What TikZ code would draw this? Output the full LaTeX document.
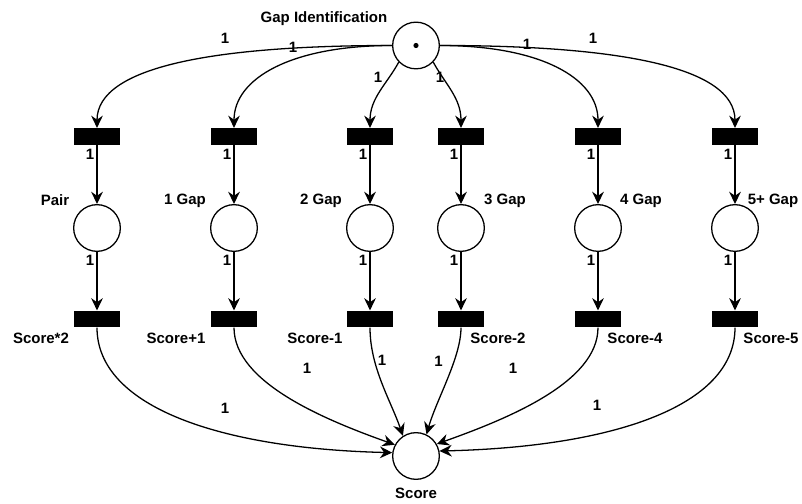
\documentclass[tikz,border=0pt]{standalone}
\usepackage{fontspec}
\setmainfont{Liberation Sans}
\usetikzlibrary{arrows.meta}

\begin{document}
\begin{tikzpicture}[x=0.03cm,y=0.03cm,
    place/.style={circle,draw,line width=1.1pt,minimum size=1.4cm,inner sep=0pt},
    trans/.style={rectangle,fill=black,minimum width=1.4cm,minimum height=0.5cm,inner sep=0pt},
    lbl/.style={font=\fontsize{12.8}{14}\selectfont\bfseries,inner sep=0pt},
    arc/.style={line width=1.1pt,-{Stealth[length=10.5pt,width=10pt,inset=3.5pt]}}]

    \useasboundingbox (0,0) rectangle (802,504);

    % places
    \node[place] (gi) at (416,458.5) {};
    \node[place] (p1) at (97,276) {};
    \node[place] (p2) at (234,276) {};
    \node[place] (p3) at (370,276) {};
    \node[place] (p4) at (461,276) {};
    \node[place] (p5) at (598,276) {};
    \node[place] (p6) at (735,276) {};
    \node[place] (sc) at (416,48) {};
    \fill (gi.center) circle[radius=2.2pt];

    % transitions
    \node[trans] (t1) at (97,367.5) {};
    \node[trans] (t2) at (234,367.5) {};
    \node[trans] (t3) at (370,367.5) {};
    \node[trans] (t4) at (461,367.5) {};
    \node[trans] (t5) at (598,367.5) {};
    \node[trans] (t6) at (735,367.5) {};
    \node[trans] (u1) at (97,185) {};
    \node[trans] (u2) at (234,185) {};
    \node[trans] (u3) at (370,185) {};
    \node[trans] (u4) at (461,185) {};
    \node[trans] (u5) at (598,185) {};
    \node[trans] (u6) at (735,185) {};

    % names
    \node[lbl] (lgi) at (324,485.5) {Gap Identification};
    \node[lbl] (lp1) at (55,303.5) {Pair};
    \node[lbl] (lp2) at (185,303.5) {1 Gap};
    \node[lbl] (lp3) at (321,303.5) {2 Gap};
    \node[lbl] (lp4) at (505,303.5) {3 Gap};
    \node[lbl] (lp5) at (641,303.5) {4 Gap};
    \node[lbl] (lp6) at (773,303.5) {5+ Gap};
    \node[lbl] (lu1) at (41,166) {Score*2};
    \node[lbl] (lu2) at (176,166) {Score+1};
    \node[lbl] (lu3) at (315,166) {Score-1};
    \node[lbl] (lu4) at (498,166) {Score-2};
    \node[lbl] (lu5) at (635,166) {Score-4};
    \node[lbl] (lu6) at (771,166) {Score-5};
    \node[lbl] (lsc) at (416,11) {Score};

    % arcs out of Gap Identification
    \draw[arc] (gi.west) .. controls +(-175,0) and +(0,62) .. (t1.north);
    \draw[arc] (gi.west) .. controls +(-100,0) and +(0,50) .. (t2.north);
    \draw[arc] (gi.-136) .. controls +(-12,-22) and +(0,30) .. (t3.north);
    \draw[arc] (gi.-44) .. controls +(12,-22) and +(0,30) .. (t4.north);
    \draw[arc] (gi.east) .. controls +(100,0) and +(0,50) .. (t5.north);
    \draw[arc] (gi.east) .. controls +(175,0) and +(0,62) .. (t6.north);

    % columns
    \draw[arc] (t1) -- (p1);
    \draw[arc] (t2) -- (p2);
    \draw[arc] (t3) -- (p3);
    \draw[arc] (t4) -- (p4);
    \draw[arc] (t5) -- (p5);
    \draw[arc] (t6) -- (p6);
    \draw[arc] (p1) -- (u1);
    \draw[arc] (p2) -- (u2);
    \draw[arc] (p3) -- (u3);
    \draw[arc] (p4) -- (u4);
    \draw[arc] (p5) -- (u5);
    \draw[arc] (p6) -- (u6);

    % arcs into Score
    \draw[arc] (u1.south) .. controls +(0,-80) and +(-170,4) .. (sc.172);
    \draw[arc] (u2.south) .. controls +(0,-55) and +(-70,25) .. (sc.152);
    \draw[arc] (u3.south) .. controls +(0,-40) and +(-12,35) .. (sc.123);
    \draw[arc] (u4.south) .. controls +(0,-30) and +(10,35) .. (sc.64);
    \draw[arc] (u5.south) .. controls +(0,-55) and +(70,25) .. (sc.30);
    \draw[arc] (u6.south) .. controls +(0,-80) and +(170,4) .. (sc.12);

    % weights
    \node[lbl] (w1) at (225,466) {1};
    \node[lbl] (w2) at (293,457) {1};
    \node[lbl] (w3) at (378,427) {1};
    \node[lbl] (w4) at (440,427) {1};
    \node[lbl] (w5) at (527,459.5) {1};
    \node[lbl] (w6) at (593,466) {1};
    \node[lbl] (wt1) at (90,349.5) {1};
    \node[lbl] (wt2) at (227,349.5) {1};
    \node[lbl] (wt3) at (363,349.5) {1};
    \node[lbl] (wt4) at (454,349.5) {1};
    \node[lbl] (wt5) at (591,349.5) {1};
    \node[lbl] (wt6) at (728,349.5) {1};
    \node[lbl] (wp1) at (90,243.5) {1};
    \node[lbl] (wp2) at (227,243.5) {1};
    \node[lbl] (wp3) at (363,243.5) {1};
    \node[lbl] (wp4) at (454,243.5) {1};
    \node[lbl] (wp5) at (591,243.5) {1};
    \node[lbl] (wp6) at (728,243.5) {1};
    \node[lbl] (ws1) at (225,96) {1};
    \node[lbl] (ws2) at (307,136) {1};
    \node[lbl] (ws3) at (382,143.5) {1};
    \node[lbl] (ws4) at (438.5,143) {1};
    \node[lbl] (ws5) at (513,136) {1};
    \node[lbl] (ws6) at (597,99) {1};
\end{tikzpicture}
\end{document}
